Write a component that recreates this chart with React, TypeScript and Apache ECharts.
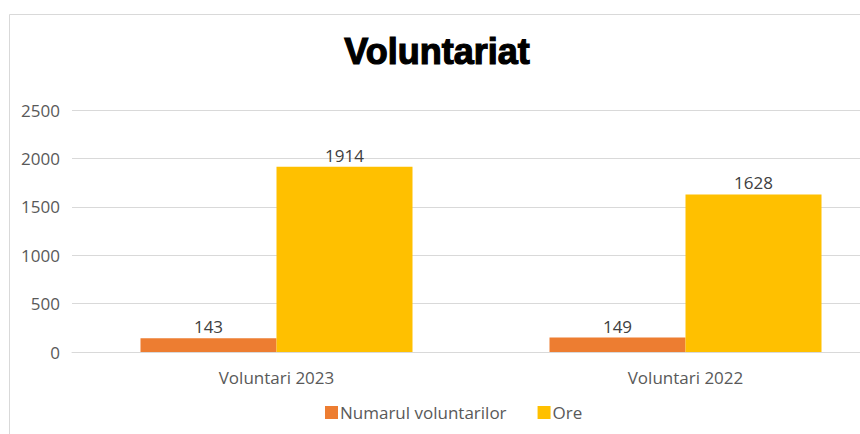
import React, { useEffect, useRef } from "react";
import * as echarts from "echarts";

const categories = ["Voluntari 2023", "Voluntari 2022"];
const voluntari = [143, 149];
const ore = [1914, 1628];
const seriesNames = ["Numarul voluntarilor", "Ore"];

export default function App() {
  const ref = useRef<HTMLDivElement>(null);
  useEffect(() => {
    const chart = echarts.init(ref.current!, null, { renderer: "svg" });
    const font = "'Open Sans', 'Noto Sans', sans-serif";
    chart.setOption({
      animation: false,
      backgroundColor: "#ffffff",
      textStyle: { fontFamily: font },
      title: {
        text: "Voluntariat",
        left: 432,
        top: 28,
        textAlign: "center",
        textStyle: {
          fontFamily: "'Liberation Sans', Arial, sans-serif",
          fontWeight: 900,
          fontSize: 36,
          color: "#000000",
          textBorderColor: "#000000",
          textBorderWidth: 1.2,
        },
      },
      graphic: [
        {
          type: "polyline",
          shape: { points: [[9.5, 434], [9.5, 14.5], [890, 14.5]] },
          style: { stroke: "#d9d9d9", lineWidth: 1, fill: null },
          silent: true,
        },
      ],
      legend: {
        left: 320,
        top: 399,
        itemWidth: 13,
        itemHeight: 13,
        itemGap: 31,
        icon: "rect",
        textStyle: { fontFamily: font, fontSize: 17, color: "#595959", padding: [0, 0, 0, -3] },
        data: seriesNames,
      },
      grid: { left: 72, top: 110, right: 0, height: 242, containLabel: false },
      xAxis: {
        type: "category",
        data: categories,
        axisLine: { lineStyle: { color: "#d9d9d9" } },
        axisTick: { show: false },
        axisLabel: { fontFamily: font, fontSize: 17, color: "#595959", margin: 17 },
      },
      yAxis: {
        type: "value",
        min: 0,
        max: 2500,
        interval: 500,
        axisLine: { show: false },
        axisTick: { show: false },
        splitLine: { lineStyle: { color: "#d9d9d9" } },
        axisLabel: {
          fontFamily: font,
          fontSize: 17,
          color: "#595959",
          margin: 12,
          formatter: (v: number) => String(v),
        },
      },
      series: [
        {
          name: seriesNames[0],
          type: "bar",
          data: voluntari,
          barWidth: 136,
          barGap: "0%",
          itemStyle: { color: "#ED7D31" },
          label: { show: true, position: "top", fontFamily: font, fontSize: 17, color: "#404040", distance: 3 },
        },
        {
          name: seriesNames[1],
          type: "bar",
          data: ore,
          barWidth: 136,
          barGap: "0%",
          itemStyle: { color: "#FFC000" },
          label: { show: true, position: "top", fontFamily: font, fontSize: 17, color: "#404040", distance: 3 },
        },
      ],
    });
    return () => chart.dispose();
  }, []);
  return (
    <div style={{ position: "fixed", left: 0, top: 0, width: 860, height: 434, overflow: "hidden" }}>
      <div ref={ref} style={{ width: 890, height: 434 }} />
    </div>
  );
}
